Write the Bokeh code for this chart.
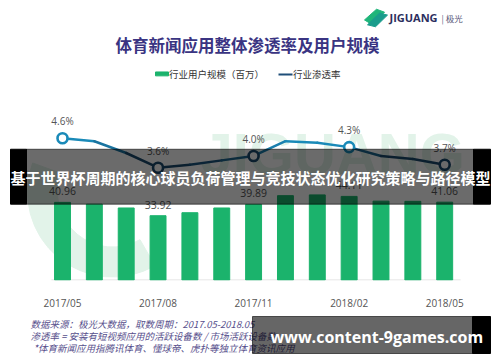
import math
from bokeh.plotting import figure
from bokeh.models import Range1d, FixedTicker, ColumnDataSource
from bokeh.layouts import column
from bokeh.core.properties import value
from bokeh.embed import file_html
from bokeh.resources import INLINE

# ---------------- data ----------------
months = ["2017/05", "2017/06", "2017/07", "2017/08", "2017/09", "2017/10", "2017/11",
          "2017/12", "2018/01", "2018/02", "2018/03", "2018/04", "2018/05"]
users = [40.96, 40.0, 38.0, 33.92, 35.5, 38.0, 39.89, 44.5, 44.9, 44.11, 41.6, 41.5, 41.06]
rate = [4.6, 4.5, 4.1, 3.6, 3.7, 3.85, 4.0, 4.5, 4.45, 4.3, 4.0, 3.9, 3.7]
tick_months = ["2017/05", "2017/08", "2017/11", "2018/02", "2018/05"]
labelled = ["2017/05", "2017/08", "2017/11", "2018/02", "2018/05"]

title_text = "体育新闻应用整体渗透率及用户规模"
legend_bar = "行业用户规模（百万）"
legend_line = "行业渗透率"
banner_text = "基于世界杯周期的核心球员负荷管理与竞技状态优化研究策略与路径模型"
footer_lines = ["数据来源：极光大数据，取数周期：2017.05-2018.05",
                "渗透率 = 安装有短视频应用的活跃设备数 / 市场活跃设备数",
                "*体育新闻应用指腾讯体育、懂球帝、虎扑等独立体育资讯应用"]
site_text = "www.content-9games.com"

# ---------------- styles ----------------
BAR = "#1bb36c"
TEAL = "#1a8ab8"
NAVY = "#1b4a6e"
seg_colors = [TEAL, "#1a74a0", NAVY, NAVY, "#1c5680", "#1d6890", "#1b7fae",
              TEAL, TEAL, "#1b6690", NAVY, NAVY]
mk_colors = [TEAL, NAVY, NAVY, TEAL, NAVY]
CJK = "Noto Sans CJK SC"
LAT = "Open Sans"

xs = list(range(len(months)))

p = figure(width=500, height=312, output_backend="svg", toolbar_location=None,
           x_range=Range1d(-1.9466, 13.752), y_range=Range1d(-0.256, 147.44),
           y_axis_location=None, min_border_left=0, min_border_right=0,
           min_border_top=0, min_border_bottom=24)
p.extra_y_ranges = {"rate": Range1d(-0.228, 9.277), "py": Range1d(288, 0)}
p.extra_x_ranges = {"px": Range1d(0, 500)}
p.outline_line_color = None
p.xgrid.visible = False
p.ygrid.visible = False
p.background_fill_color = "white"
p.border_fill_color = "white"

ax = p.xaxis[0]
ax.ticker = FixedTicker(ticks=[months.index(m) for m in tick_months])
ax.major_label_overrides = {months.index(m): m for m in tick_months}
ax.axis_line_color = None
ax.major_tick_line_color = None
ax.minor_tick_line_color = None
ax.major_label_standoff = 9
ax.major_label_text_font = LAT
ax.major_label_text_font_size = "10px"
ax.major_label_text_color = "#555555"

# ---- watermark (behind) ----
WM = "#e2f3e9"
p.annular_wedge(x=[112], y=[197], inner_radius=55, outer_radius=85,
                start_angle=math.radians(-60), end_angle=math.radians(160),
                color=WM, x_range_name="px", y_range_name="py", direction="clock")
p.text(x=[200], y=[124], text=["JIGUANG"], text_font=value("Liberation Sans"),
       text_font_style="bold", text_font_size="58px", text_color=WM,
       text_baseline="top", x_range_name="px", y_range_name="py")

# ---- title / legend / logo ----
p.text(x=[247], y=[46], text=[title_text], text_font=value(CJK), text_font_style="bold",
       text_font_size="16.5px", text_color="#3a3482", text_align="center",
       text_baseline="middle", x_range_name="px", y_range_name="py")
p.quad(left=[155], right=[168], top=[73.5], bottom=[77.5], color=BAR,
       x_range_name="px", y_range_name="py")
p.text(x=[168.5], y=[76], text=[legend_bar], text_font=value(CJK), text_font_size="9.5px",
       text_color="#333333", text_baseline="middle", x_range_name="px", y_range_name="py")
p.segment(x0=[278], y0=[76], x1=[292], y1=[76], line_color="#1f4e79", line_width=2,
          x_range_name="px", y_range_name="py")
p.text(x=[292.5], y=[76], text=[legend_line], text_font=value(CJK), text_font_size="9.5px",
       text_color="#333333", text_baseline="middle", x_range_name="px", y_range_name="py")
# logo
p.patches(xs=[[364, 372, 384, 376], [367, 375, 387, 379]],
          ys=[[20, 25, 12, 9], [25, 27, 15, 13]],
          color=["#1fb57a", "#1a9c8c"], x_range_name="px", y_range_name="py")
p.text(x=[389], y=[17.5], text=["JIGUANG"], text_font=value(LAT), text_font_style="bold",
       text_font_size="11px", text_color="#2c2f5e", text_baseline="middle",
       x_range_name="px", y_range_name="py")
p.text(x=[441], y=[17.5], text=["| 极光"], text_font=value(CJK),
       text_font_size="8.5px", text_color="#555577", text_baseline="middle",
       x_range_name="px", y_range_name="py")

# ---- data marks ----
src = ColumnDataSource(dict(x=xs, users=users, rate=rate))
p.segment(x0=[-0.35], y0=[0], x1=[12.5], y1=[0], line_color="#dddddd", line_width=1)
p.vbar(x="x", top="users", width=0.5, color=BAR, source=src)

li = [months.index(m) for m in labelled]
p.text(x=li, y=[users[i] for i in li], text=["%.2f" % users[i] for i in li],
       y_offset=-11, text_font=value(LAT), text_font_size="10.5px",
       text_color="#555555", text_align="center", text_baseline="middle")

p.segment(x0=xs[:-1], y0=rate[:-1], x1=xs[1:], y1=rate[1:], line_color=seg_colors,
          line_width=2.5, line_cap="round", y_range_name="rate")
p.scatter(x=li, y=[rate[i] for i in li], size=10, fill_color="white",
          line_color=mk_colors, line_width=2.6, y_range_name="rate")
p.text(x=li, y=[rate[i] for i in li], text=["%.1f%%" % rate[i] for i in li],
       y_offset=-17, text_font=value(LAT), text_font_size="10px",
       text_color="#555555", text_align="center", text_baseline="middle",
       y_range_name="rate")

# ---- overlay banner ----
p.quad(left=[10, 473], right=[26, 490], top=[153, 153], bottom=[209.5, 209.5],
       color="black", x_range_name="px", y_range_name="py")
p.quad(left=[26], right=[473], top=[153], bottom=[209.5], color="black", alpha=0.58,
       x_range_name="px", y_range_name="py")
p.text(x=[250], y=[182], text=[banner_text], text_font=value(CJK), text_font_style="bold",
       text_font_size="15px", text_color="white", text_align="center",
       text_baseline="middle", x_range_name="px", y_range_name="py")

# ---------------- footer ----------------
f = figure(width=500, height=50, output_backend="svg", toolbar_location=None,
           x_range=Range1d(0, 500), y_range=Range1d(362, 312),
           x_axis_location=None, y_axis_location=None,
           min_border_left=0, min_border_right=0, min_border_top=0, min_border_bottom=0)
f.outline_line_color = None
f.xgrid.visible = False
f.ygrid.visible = False
f.text(x=[30, 30, 33], y=[323, 335.5, 347.5], text=footer_lines, text_font=value(CJK),
       text_font_style="italic", text_font_size="9.5px", text_color="#574f8c",
       text_baseline="middle")
f.quad(left=[252], right=[472], top=[316], bottom=[353], color="black", alpha=0.6)
f.quad(left=[472], right=[490], top=[316], bottom=[353], color="black")
f.text(x=[270], y=[336], text=[site_text], text_font=value(LAT), text_font_style="bold",
       text_font_size="16px", text_color="white", text_baseline="middle")

layout = column(p, f, spacing=0)
open("out.html", "w").write(file_html(layout, INLINE))
